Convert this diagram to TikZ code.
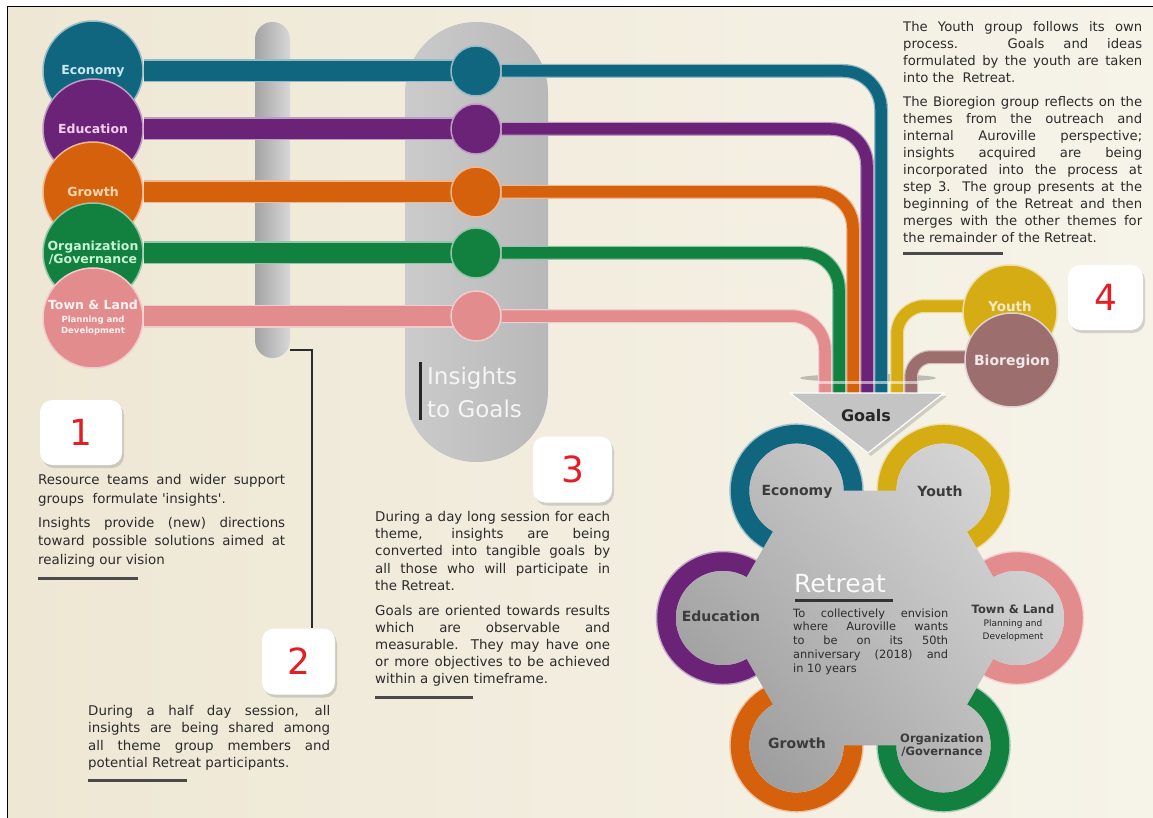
\documentclass[tikz,border=0pt]{standalone}
\usepackage{fontspec}
\setmainfont{DejaVu Sans}
\usetikzlibrary{calc,shadows,shadings}
\definecolor{bgA}{HTML}{EEE7D4}
\definecolor{bgB}{HTML}{F6F3E9}
\definecolor{cEco}{HTML}{11667F}
\definecolor{cEdu}{HTML}{6A2377}
\definecolor{cGro}{HTML}{D6610D}
\definecolor{cOrg}{HTML}{12803F}
\definecolor{cTown}{HTML}{E38C8E}
\definecolor{cYouth}{HTML}{D5AC14}
\definecolor{cBio}{HTML}{9C6E6E}
\definecolor{lEco}{HTML}{C9E8F0}
\definecolor{lEdu}{HTML}{F3CDEE}
\definecolor{lGro}{HTML}{FFD7B0}
\definecolor{lOrg}{HTML}{C6F2D2}
\definecolor{lTown}{HTML}{FFF2F2}
\definecolor{txt}{HTML}{2B2B2B}
\definecolor{numred}{HTML}{E31E24}
\definecolor{ulcol}{HTML}{4A4A4A}
\definecolor{pOneA}{HTML}{A3A3A3}
\definecolor{pOneB}{HTML}{D8D8D8}
\definecolor{pTwoA}{HTML}{CBCBCB}
\definecolor{pTwoB}{HTML}{B8B8B8}
\definecolor{arrowgray}{HTML}{C4C4C4}
\definecolor{flabcol}{HTML}{3B3B3B}
\definecolor{shUL}{HTML}{B8B8B8}
\definecolor{shUR}{HTML}{E0E0E0}
\definecolor{shLL}{HTML}{909090}
\definecolor{shLR}{HTML}{C2C2C2}
\newcommand\jl[1]{\hbox to\hsize{#1}}
\newcommand\lastl[1]{\hbox{#1}}
\tikzset{
  bigc/.style={circle, minimum size=100pt, inner sep=0pt, fill=#1, draw=#1!45!white, line width=1.5pt, align=center, font=\fontsize{12.5}{11}\bfseries},
  smallc/.style={circle, minimum size=50pt, inner sep=0pt, fill=#1, draw=#1!45!white, line width=1.5pt},
  tube/.style n args={3}{draw=#1, line width=#2, preaction={draw=#1!45!white, line width=#3}},
  numbox/.style={fill=white, rounded corners=12pt, inner sep=0pt, font=\fontsize{36}{36}\selectfont, text=numred, drop shadow={shadow xshift=2pt, shadow yshift=-3pt, opacity=.3, fill=gray}},
  para/.style={anchor=base west, inner sep=0pt, text=txt},
  ulinestyle/.style={line width=3pt, draw=ulcol},
  conn/.style={draw=txt, line width=1.1pt},
  flab/.style={font=\fontsize{14}{14}\bfseries, text=flabcol, inner sep=0pt},
  flabsmall/.style={font=\fontsize{11.5}{13}\bfseries, text=flabcol, inner sep=0pt, align=center},
}
\begin{document}
\begin{tikzpicture}[x=1pt,y=-1pt]
\useasboundingbox (0,0) rectangle (1153,818);
\fill[white] (0,0) rectangle (1153,818);
\shade[left color=bgA, right color=bgB] (7.5,6.5) rectangle (1153,818);
\draw[line width=1.5pt, black] (7.5,818) -- (7.5,6.5) -- (1153,6.5);

% pills
\node[left color=pOneA, right color=pOneB, minimum width=35pt, minimum height=336pt, rounded corners=17.4pt, inner sep=0pt] (pill1) at (272.5,190) {};
\node[left color=pTwoA, right color=pTwoB, minimum width=143pt, minimum height=440pt, rounded corners=71pt, inner sep=0pt] (pill2) at (476.5,242) {};

% big circles
\node[bigc=cEco, text=lEco] (eco) at (93,71) {Economy};
\node[bigc=cEdu, text=lEdu] (edu) at (93,129) {Education};
\node[bigc=cGro, text=lGro] (gro) at (93,192) {Growth};
\node[bigc=cOrg, text=lOrg] (org) at (93,253) {Organization\\/Governance};
\node[bigc=cTown, text=lTown] (town) at (93,318) {Town \& Land\\[2pt]\fontsize{8.5}{13}\selectfont Planning and\\\fontsize{8.5}{13}\selectfont Development};

% small circles (positions)
\coordinate (sEcoP) at (476,71);
\coordinate (sEduP) at (476,129);
\coordinate (sGroP) at (476,192);
\coordinate (sOrgP) at (476,253);
\coordinate (sTownP) at (476,316);

% thick bars
\draw[tube={cEco}{20pt}{23pt}] (eco.east) -- ($(sEcoP)+(-20,0)$);
\draw[tube={cEdu}{20pt}{23pt}] (edu.east) -- ($(sEduP)+(-20,0)$);
\draw[tube={cGro}{20pt}{23pt}] (gro.east) -- ($(sGroP)+(-20,0)$);
\draw[tube={cOrg}{20pt}{23pt}] (org.east) -- ($(sOrgP)+(-20,0)$);
\draw[tube={cTown}{20pt}{23pt}] (town.east |- sTownP) -- ($(sTownP)+(-20,0)$);

\node[smallc=cEco] (seco) at (sEcoP) {};
\node[smallc=cEdu] (sedu) at (sEduP) {};
\node[smallc=cGro] (sgro) at (sGroP) {};
\node[smallc=cOrg] (sorg) at (sOrgP) {};
\node[smallc=cTown] (stown) at (sTownP) {};

% goal entry points
\coordinate (gT) at (825,393);
\coordinate (gO) at (839,393);
\coordinate (gG) at (853,393);
\coordinate (gE) at (867,393);
\coordinate (gC) at (881,393);
\coordinate (gY) at (897,393);
\coordinate (gB) at (911,393);

\fill[gray!70!black, opacity=.35] (868,378) ellipse [x radius=68, y radius=4];

% thin lines
\draw[tube={cEco}{11.5pt}{14pt}, rounded corners=38pt] (seco.east) -- (seco.east -| gC) -- (gC);
\draw[tube={cEdu}{11.5pt}{14pt}, rounded corners=36pt] (sedu.east) -- (sedu.east -| gE) -- (gE);
\draw[tube={cGro}{11.5pt}{14pt}, rounded corners=36pt] (sgro.east) -- (sgro.east -| gG) -- (gG);
\draw[tube={cOrg}{11.5pt}{14pt}, rounded corners=36pt] (sorg.east) -- (sorg.east -| gO) -- (gO);
\draw[tube={cTown}{11.5pt}{14pt}, rounded corners=34pt] (stown.east) -- (stown.east -| gT) -- (gT);

% youth / bioregion
\coordinate (youthP) at (1010,312);
\coordinate (bioP) at (1012,360);
\coordinate (yS) at (975,306);
\coordinate (bS) at (975,357);
\draw[tube={cYouth}{11.5pt}{14pt}, rounded corners=28pt] (yS) -- (yS -| gY) -- (gY);
\draw[tube={cBio}{11.5pt}{14pt}, rounded corners=20pt] (bS) -- (bS -| gB) -- (gB);
\fill[white, opacity=.55] (818,381) rectangle (918,384);

\node[circle, minimum size=94pt, inner sep=0pt, fill=cYouth, draw=cYouth!40!white, line width=1.5pt] (youth) at (youthP) {};
\node[circle, minimum size=94pt, inner sep=0pt, fill=cBio, draw=cBio!30!white, line width=1.5pt] (bio) at (bioP) {};
\node[font=\fontsize{13.5}{14}\bfseries, text=cYouth!25!white, inner sep=0pt] (youthL) at (1010,306) {Youth};
\node[font=\fontsize{14}{14}\bfseries, text=cBio!15!white, inner sep=0pt] (bioL) at (1012,362) {Bioregion};

% flower
\coordinate (hub) at (870,618);
\coordinate (pT) at ($(hub)+(0:147)$);
\coordinate (pO) at ($(hub)+(60:147)$);
\coordinate (pG) at ($(hub)+(120:147)$);
\coordinate (pE) at ($(hub)+(180:147)$);
\coordinate (pC) at ($(hub)+(240:147)$);
\coordinate (pY) at ($(hub)+(300:147)$);
\foreach \p/\c in {pT/cTown, pO/cOrg, pG/cGro, pE/cEdu, pC/cEco, pY/cYouth}{
  \draw[line width=21.5pt, \c!40!white] (\p) circle (56.5);
  \draw[line width=18.5pt, \c] (\p) circle (56.5);
}
\shade[upper left=shUL, upper right=shUR, lower left=shLL, lower right=shLR]
  ($(pT)+(-120:47)$) arc[start angle=-120, end angle=120, radius=47]
  -- ($(pO)+(-60:47)$) arc[start angle=-60, end angle=180, radius=47]
  -- ($(pG)+(0:47)$) arc[start angle=0, end angle=240, radius=47]
  -- ($(pE)+(60:47)$) arc[start angle=60, end angle=300, radius=47]
  -- ($(pC)+(120:47)$) arc[start angle=120, end angle=360, radius=47]
  -- ($(pY)+(180:47)$) arc[start angle=180, end angle=420, radius=47]
  -- cycle;

\node[flab] (fEco) at (797,492) {Economy};
\node[flab] (fYou) at (940,491) {Youth};
\node[flab] (fEdu) at (721,616) {Education};
\node[flab] (fGro) at (797,743) {Growth};
\node[flabsmall] (fOrg) at (942,745) {Organization\\/Governance};
\node[flabsmall] (fTown) at (1013,609) {Town \& Land};
\node[font=\fontsize{9}{13}\selectfont, text=gray!30!black, align=center, inner sep=0pt] (fTownS) at (1013,631) {Planning and\\Development};

\node[anchor=base west, inner sep=0pt, font=\fontsize{25}{25}\selectfont, text=white!96!gray] (rt) at (794,592) {Retreat};
\draw[ulinestyle, draw=gray!40!black] (795,600) -- (893,600);
\node[para, text=gray!35!black, font=\fontsize{11.4}{13.8}\selectfont] (rdesc) at (793,617) {\vtop{\hsize=155pt
\jl{To collectively envision}
\jl{where Auroville wants}
\jl{to be on its 50th}
\jl{anniversary (2018) and}
\lastl{in 10 years}}};

% goals arrow
\fill[black, opacity=.15] (793,396) -- (947,396) -- (871,456) -- cycle;
\filldraw[fill=arrowgray, draw=white, line width=1.2pt] (790,393) -- (944,393) -- (868,453) -- cycle;
\node[font=\fontsize{16}{16}\bfseries, text=black!85, inner sep=0pt] (goals) at (866,416) {Goals};

% numbered boxes
\node[numbox, minimum width=82pt, minimum height=65pt] (b1) at (81,432.5) {1};
\node[numbox, minimum width=73pt, minimum height=66pt] (b2) at (298.5,661.5) {2};
\node[numbox, minimum width=79pt, minimum height=66pt] (b3) at (572.5,469.5) {3};
\node[numbox, minimum width=75pt, minimum height=65pt] (b4) at (1105.5,297.5) {4};

\draw[conn] (pill1.east |- 0,350) -| ($(b2.north)+(13.5,0)$);

% insights to goals
\draw[line width=3pt, gray!30!black] (420,362) -- (420,420);
\node[anchor=west, align=left, font=\fontsize{23}{33}\selectfont, text=white!92!gray, inner sep=0pt] (ins) at (427,392) {Insights\\to Goals};

% paragraphs
\node[para, font=\fontsize{13.4}{18.5}\selectfont] (t1) at (38,484.7) {\vtop{\hsize=247pt
\jl{Resource teams and wider support}
\lastl{groups\ \ formulate \textquotesingle insights\textquotesingle.}
\vskip5.5pt
\jl{Insights provide (new) directions}
\jl{toward possible solutions aimed at}
\lastl{realizing our vision}}};
\draw[ulinestyle] (38,578) -- (138,578);

\node[para, font=\fontsize{13.4}{17.2}\selectfont] (t2) at (88,715.7) {\vtop{\hsize=242pt
\jl{During a half day session, all}
\jl{insights are being shared among}
\jl{all theme group members and}
\lastl{potential Retreat participants.}}};
\draw[ulinestyle] (88,780) -- (187,780);

\node[para, font=\fontsize{13.4}{17.1}\selectfont] (t3) at (375,521.7) {\vtop{\hsize=235pt
\jl{During a day long session for each}
\jl{theme, insights are being}
\jl{converted into tangible goals by}
\jl{all those who will participate in}
\lastl{the Retreat.}
\vskip8pt
\jl{Goals are oriented towards results}
\jl{which are observable and}
\jl{measurable. They may have one}
\jl{or more objectives to be achieved}
\lastl{within a given timeframe.}}};
\draw[ulinestyle] (375,697) -- (473,697);

\node[para, font=\fontsize{13.2}{17}\selectfont] (t4) at (903,31.7) {\vtop{\hsize=239pt
\jl{The Youth group follows its own}
\jl{process. Goals and ideas}
\jl{formulated by the youth are taken}
\lastl{into the\ \ Retreat.}
\vskip7pt
\jl{The Bioregion group reflects on the}
\jl{themes from the outreach and}
\jl{internal Auroville perspective;}
\jl{insights acquired are being}
\jl{incorporated into the process at}
\jl{step 3. The group presents at the}
\jl{beginning of the Retreat and then}
\jl{merges with the other themes for}
\lastl{the remainder of the Retreat.}}};
\draw[ulinestyle] (903,254) -- (1003,254);
\end{tikzpicture}
\end{document}
